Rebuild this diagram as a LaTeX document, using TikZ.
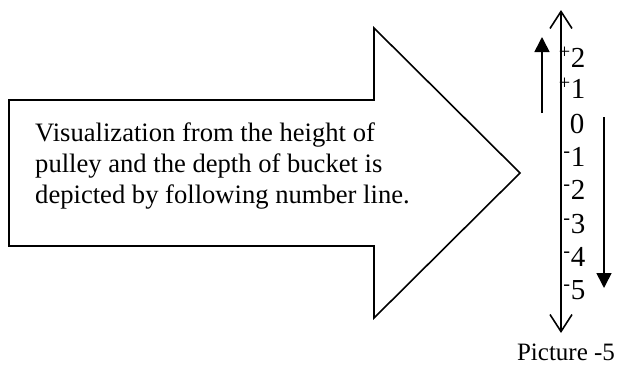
\documentclass[tikz,border=0pt]{standalone}
\usepackage{fontspec}
\setmainfont{Liberation Serif}
\usetikzlibrary{arrows.meta}
\begin{document}
\begin{tikzpicture}[x=1pt,y=-1pt,
  txt/.style={font=\fontsize{26.6}{31}\selectfont, inner sep=0pt},
  numlbl/.style={font=\fontsize{29}{31}\selectfont, inner sep=0pt, anchor=center},
  axis/.style={line width=1.6pt, {Straight Barb[length=17pt,width=22pt,line width=1.6pt]}-{Straight Barb[length=17pt,width=22pt,line width=1.6pt]}},
  motion/.style={line width=1.6pt, -{Triangle[length=15pt,width=15pt]}},
  bigarrow/.style={draw, line width=1.6pt, line join=miter}
]
\useasboundingbox (0,0) rectangle (624,367);
% big arrow
\draw[bigarrow] (9,100) -- (374,100) -- (374,28) -- (520,173) -- (374,318) -- (374,246) -- (9,246) -- cycle;
\node[txt, anchor=west, align=left] (desc) at (35,166) {Visualization from the height of\\pulley and the depth of bucket is\\depicted by following number line.};
% number line
\coordinate (axtop) at (561,10);
\coordinate (axbot) at (561,333);
\draw[axis] (axbot) -- (axtop);
\coordinate (upstart) at (542,113);
\coordinate (upend) at (542,37);
\draw[motion] (upstart) -- (upend);
\coordinate (dnstart) at (604,117);
\coordinate (dnend) at (604,288);
\draw[motion] (dnstart) -- (dnend);
\node[numlbl] (p2) at (578,57) {\llap{\textsuperscript{+}}2};
\node[numlbl] (p1) at (578,88) {\llap{\textsuperscript{+}}1};
\node[numlbl] (z0) at (577,124) {0};
\node[numlbl] (m1) at (578,157) {\llap{\textsuperscript{-}}1};
\node[numlbl] (m2) at (578,190) {\llap{\textsuperscript{-}}2};
\node[numlbl] (m3) at (578,224) {\llap{\textsuperscript{-}}3};
\node[numlbl] (m4) at (578,257) {\llap{\textsuperscript{-}}4};
\node[numlbl] (m5) at (578,290) {\llap{\textsuperscript{-}}5};
\node[txt, font=\fontsize{25}{30}\selectfont] (cap) at (566,352) {Picture -5};
\end{tikzpicture}
\end{document}
